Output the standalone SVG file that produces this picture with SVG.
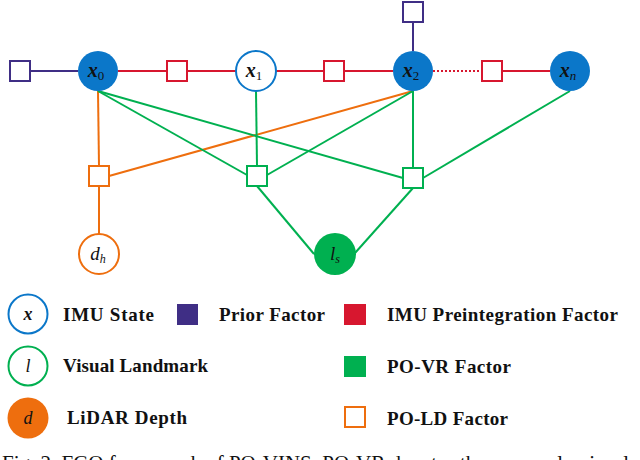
<svg xmlns="http://www.w3.org/2000/svg" width="640" height="460" viewBox="0 0 640 460">
<style>
.ln{fill:none;stroke-width:2}
.red{stroke:#D7172F}.grn{stroke:#00B050}.org{stroke:#EE6E0E}.pur{stroke:#3F2E85}
.sq{fill:#fff;stroke-width:2}
.m{font-family:'Liberation Serif','DejaVu Serif',serif;font-style:italic;fill:#111}
.mb{font-family:'Liberation Serif','DejaVu Serif',serif;font-style:italic;font-weight:bold;fill:#111}
.sub{font-style:normal;font-weight:normal}
.lg{font-family:'Liberation Serif','DejaVu Serif',serif;font-weight:bold;font-size:19px;fill:#111}
.cap{font-family:'Liberation Serif','DejaVu Serif',serif;font-size:21px;fill:#111}
</style>
<rect width="640" height="460" fill="#fff"/>
<g id="connectors">
<line class="ln pur" x1="30" y1="71" x2="78" y2="71"/>
<line class="ln pur" x1="413" y1="22" x2="413" y2="51"/>
<line class="ln red" x1="118" y1="71" x2="236" y2="71"/>
<line class="ln red" x1="276" y1="71" x2="393" y2="71"/>
<line class="ln red" x1="433" y1="71" x2="482" y2="71" stroke-dasharray="2 2"/>
<line class="ln red" x1="502" y1="71" x2="550" y2="71"/>
<line class="ln org" x1="98" y1="91" x2="99" y2="166"/>
<line class="ln org" x1="109" y1="176" x2="413" y2="91"/>
<line class="ln org" x1="99" y1="186" x2="99" y2="234"/>
<line class="ln grn" x1="98" y1="91" x2="247" y2="175"/>
<line class="ln grn" x1="98" y1="91" x2="403" y2="178"/>
<line class="ln grn" x1="256" y1="91" x2="257" y2="166"/>
<line class="ln grn" x1="413" y1="91" x2="267" y2="175"/>
<line class="ln grn" x1="413" y1="91" x2="413" y2="168"/>
<line class="ln grn" x1="570" y1="91" x2="423" y2="178"/>
<line class="ln grn" x1="257" y1="186" x2="314" y2="254"/>
<line class="ln grn" x1="413" y1="188" x2="355" y2="253"/>
</g>
<g id="prior0"><rect class="sq pur" x="10" y="61" width="20" height="20"/></g>
<g id="prior2"><rect class="sq pur" x="403" y="2" width="20" height="20"/></g>
<g id="imu01"><rect class="sq red" x="167" y="61" width="20" height="20"/></g>
<g id="imu12"><rect class="sq red" x="324" y="61" width="20" height="20"/></g>
<g id="imu2n"><rect class="sq red" x="482" y="61" width="20" height="20"/></g>
<g id="x0"><circle cx="98" cy="71" r="20" fill="#0B77C9"/><text class="mb" x="96" y="77" font-size="20" text-anchor="middle">x<tspan class="sub" font-size="13" dy="3">0</tspan></text></g>
<g id="x1"><circle cx="256" cy="71" r="20" fill="#fff" stroke="#0B77C9" stroke-width="2"/><text class="mb" x="254" y="77" font-size="20" text-anchor="middle">x<tspan class="sub" font-size="13" dy="3">1</tspan></text></g>
<g id="x2"><circle cx="413" cy="71" r="20" fill="#0B77C9"/><text class="mb" x="411" y="77" font-size="20" text-anchor="middle">x<tspan class="sub" font-size="13" dy="3">2</tspan></text></g>
<g id="xn"><circle cx="570" cy="71" r="20" fill="#0B77C9"/><text class="mb" x="568" y="77" font-size="20" text-anchor="middle">x<tspan font-weight="normal" font-size="13" dy="3">n</tspan></text></g>
<g id="ld"><rect class="sq org" x="89" y="166" width="20" height="20"/></g>
<g id="vr1"><rect class="sq grn" x="247" y="166" width="20" height="20"/></g>
<g id="vr2"><rect class="sq grn" x="403" y="168" width="20" height="20"/></g>
<g id="dh"><circle cx="99" cy="254" r="20" fill="#fff" stroke="#EE6E0E" stroke-width="2"/><text class="m" x="98" y="260" font-size="19" text-anchor="middle">d<tspan font-size="12" dy="3">h</tspan></text></g>
<g id="ls"><circle cx="335" cy="254" r="21" fill="#00B050"/><text class="m" x="335" y="260" font-size="19" text-anchor="middle">l<tspan font-size="12" dy="3">s</tspan></text></g>
<g id="legend">
<circle cx="28" cy="314" r="19.5" fill="#fff" stroke="#0B77C9" stroke-width="2"/>
<text class="mb" x="28" y="320" font-size="18" text-anchor="middle">x</text>
<text class="lg" x="63" y="321" textLength="91">IMU State</text>
<rect x="177" y="304" width="21" height="21" fill="#3F2E85"/>
<text class="lg" x="219" y="321" textLength="106">Prior Factor</text>
<rect x="344" y="304" width="22" height="21" fill="#D7172F"/>
<text class="lg" x="387" y="321" textLength="231">IMU Preintegration Factor</text>
<circle cx="28" cy="366" r="19.5" fill="#fff" stroke="#00B050" stroke-width="2"/>
<text class="m" x="28" y="372" font-size="18" text-anchor="middle">l</text>
<text class="lg" x="63" y="372" textLength="145">Visual Landmark</text>
<rect x="344" y="356" width="22" height="21" fill="#00B050"/>
<text class="lg" x="387" y="373" textLength="124">PO-VR Factor</text>
<circle cx="28" cy="418" r="20.5" fill="#EE6E0E"/>
<text class="m" x="28" y="424" font-size="18" text-anchor="middle">d</text>
<text class="lg" x="67" y="424" textLength="120">LiDAR Depth</text>
<rect x="345" y="407" width="20" height="20" fill="#fff" stroke="#EE6E0E" stroke-width="2"/>
<text class="lg" x="387" y="425" textLength="121">PO-LD Factor</text>
</g>
<text class="cap" x="2" y="470">Fig. 2. FGO framework of PO-VINS. PO-VR denotes the pose-only visual</text>
</svg>
